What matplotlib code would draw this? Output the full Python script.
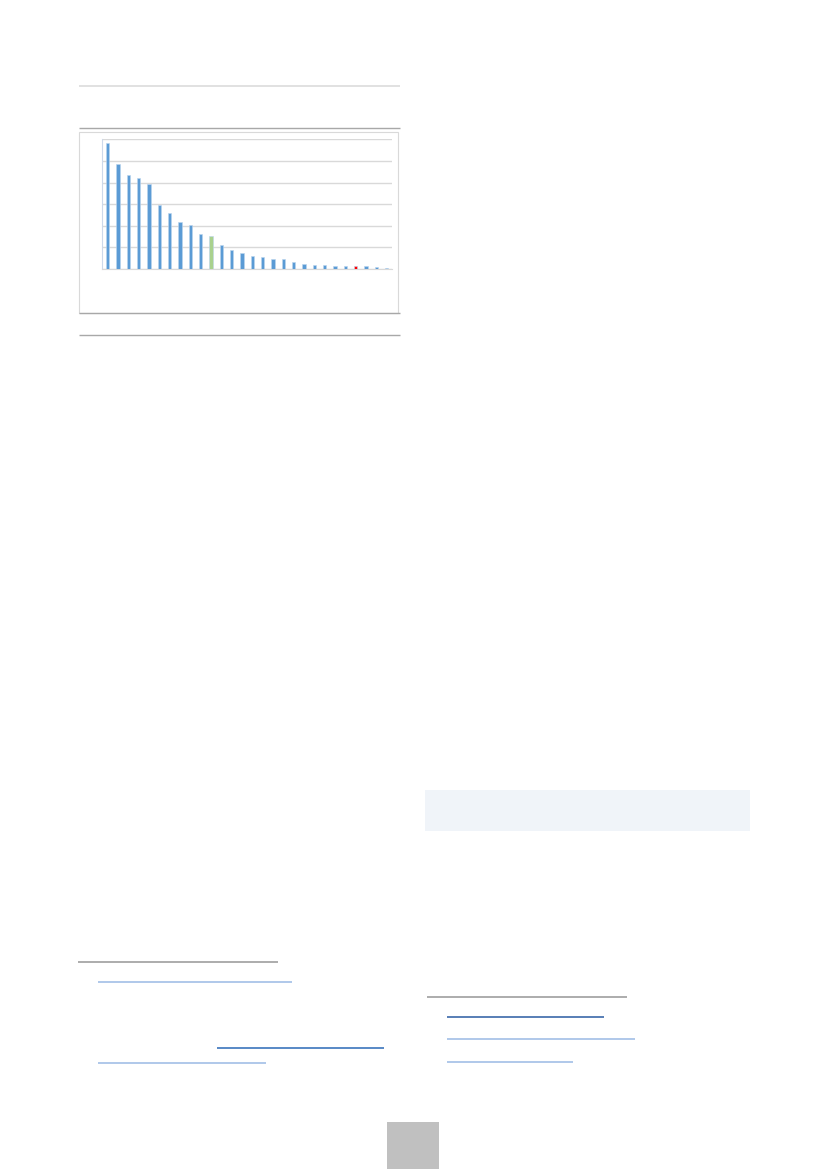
import numpy as np
import matplotlib
matplotlib.use("Agg")
import matplotlib.pyplot as plt
from matplotlib.patches import Rectangle

# bar values (grid step = 10)
values = [58.3, 48.8, 43.7, 42.0, 39.4, 29.6, 25.9, 21.8, 20.2, 16.0,
          15.4, 11.1, 8.8, 7.3, 6.0, 5.4, 4.6, 4.6, 3.2, 2.5,
          2.0, 1.7, 1.5, 1.4, 1.4, 1.2, 0.8, 0.5]
highlight_green = 10
highlight_red = 24
yticks = [0, 10, 20, 30, 40, 50, 60]

W, H = 827, 1169
fig = plt.figure(figsize=(W / 100, H / 100), dpi=100)
fig.patch.set_facecolor("white")

# page layer in pixel coordinates
page = fig.add_axes([0, 0, 1, 1])
page.set_xlim(0, W)
page.set_ylim(H, 0)
page.axis("off")

def hline(y, x0, x1, color, lw=1.0):
    page.plot([x0, x1], [y, y], color=color, lw=lw, solid_capstyle="butt")

# rules around the figure block
hline(86, 79, 400, "#dcdcdc", 1.2)
hline(127.7, 79, 400, "#a8a8a8", 1.0)
hline(313.3, 79, 400, "#a8a8a8", 1.0)
hline(335.3, 79, 400, "#a8a8a8", 1.0)

# chart frame
page.add_patch(Rectangle((79, 132.3), 319, 180.4, fill=False,
                         edgecolor="#d9d9d9", lw=0.8))

# left footnotes
hline(962, 78.3, 278.3, "#a6a6a6", 1.3)
hline(982, 98.3, 291.7, "#a9c4e8", 1.3)
hline(1048.3, 217.3, 384, "#4a7fc1", 1.3)
hline(1062.7, 98.3, 265.7, "#a9c4e8", 1.3)

# right column box and footnotes
page.add_patch(Rectangle((425, 790), 325, 40.7, facecolor="#f0f4f9",
                         edgecolor="none"))
hline(996.7, 427.3, 627.3, "#a6a6a6", 1.3)
hline(1017, 446.7, 604, "#4a74b0", 1.3)
hline(1039.3, 446.7, 635, "#a9c4e8", 1.3)
hline(1062.3, 446.7, 573.3, "#a9c4e8", 1.3)

# page number box
page.add_patch(Rectangle((387.3, 1122), 52, 47, facecolor="#c0c0c0",
                         edgecolor="none"))

# the bar chart
ax = fig.add_axes([102.3 / W, 1 - 269 / H, (392 - 102.3) / W, (269 - 139.3) / H])
x = np.arange(len(values))
colors = ["#5b9bd5"] * len(values)
colors[highlight_green] = "#a9d18e"
colors[highlight_red] = "#ff0000"
ax.bar(x, values, width=0.34, color=colors, edgecolor="#bcd5ee", linewidth=0.4,
       zorder=3)
ax.set_xlim(-0.52, len(values) - 0.48)
ax.set_ylim(0, 60)
ax.set_yticks(yticks)
ax.yaxis.grid(True, color="#d9d9d9", lw=1.0, zorder=0)
ax.set_xticks([])
ax.tick_params(left=False, labelleft=False)
for s in ["top", "right"]:
    ax.spines[s].set_visible(False)
ax.spines["left"].set_color("#cdd9ea")
ax.spines["bottom"].set_color("#d9d9d9")
ax.set_facecolor("none")

fig.savefig("out.png", dpi=100)
